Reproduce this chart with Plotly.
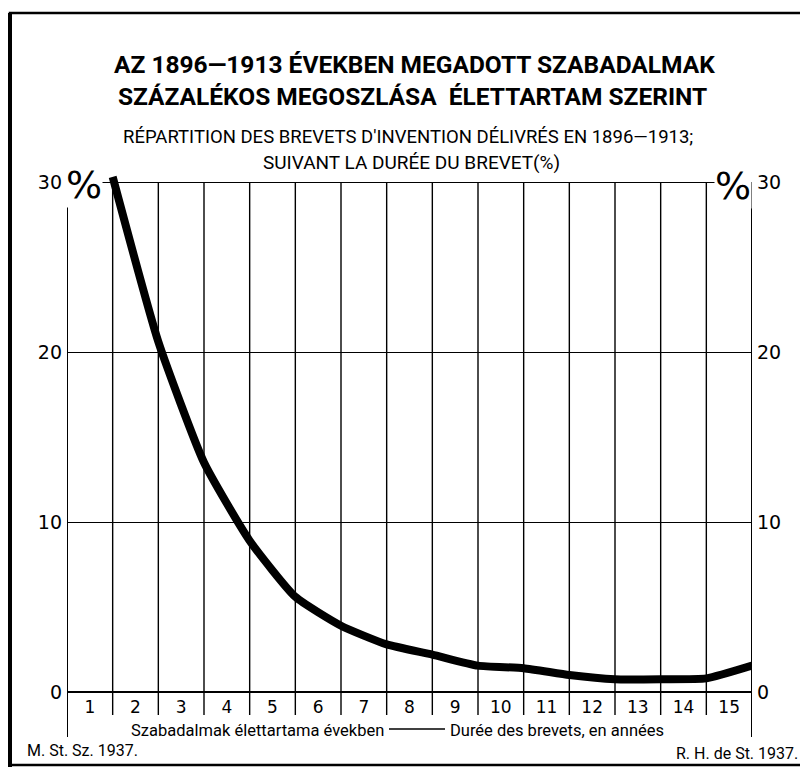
import plotly.graph_objects as go

# ---- data ----
years = list(range(1, 16))                      # duration of patent (years)
share = [30.3, 20.6, 13.5, 8.9, 5.6, 3.9, 2.8, 2.2, 1.55, 1.4, 1.0, 0.75, 0.75, 0.8, 1.55]
col_labels = [str(i) for i in range(1, 16)]
col_centers = [i - 0.5 for i in years]
col_bounds = list(range(0, 16))
y_ticks = [0, 10, 20, 30]
y_ticktext = ["0", "10", "20", "30"]

title1 = "AZ 1896—1913 ÉVEKBEN MEGADOTT SZABADALMAK"
title2 = "SZÁZALÉKOS MEGOSZLÁSA  ÉLETTARTAM SZERINT"
title3 = "RÉPARTITION DES BREVETS D'INVENTION DÉLIVRÉS EN 1896—1913;"
title4 = "SUIVANT LA DURÉE DU BREVET(%)"
xtitle_hu = "Szabadalmak élettartama években"
xtitle_fr = "Durée des brevets, en années"
foot_left = "M. St. Sz. 1937."
foot_right = "R. H. de St. 1937."

# ---- layout geometry (page body has an 8px margin) ----
OFF = 8
W, H = 808 - OFF, 767 - OFF
L = 67 - OFF
T = 165 - OFF
R = W - (752 - OFF)
B = H - (692 - OFF)
PW, PH = W - L - R, H - T - B


def px(X):
    return (X - OFF - L) / PW


def py(Y):
    return (H - B - (Y - OFF)) / PH


COND = "Roboto, Liberation Sans, Arial, sans-serif"
ROUND = "DejaVu Sans, Verdana, sans-serif"

fig = go.Figure()
fig.add_trace(go.Scatter(
    x=years, y=share, mode="lines",
    line=dict(color="black", width=8, shape="spline", smoothing=0.5),
    showlegend=False, hoverinfo="skip"))
fig.add_trace(go.Scatter(
    x=years, y=share, mode="lines", yaxis="y2",
    line=dict(color="rgba(0,0,0,0)", width=0),
    showlegend=False, hoverinfo="skip"))

shapes = []
# vertical column boundaries
for k in col_bounds:
    edge = k in (0, 15)
    low = 737 if edge else 715
    shapes.append(dict(type="line", xref="x", yref="paper", x0=k, x1=k,
                       y0=py(low), y1=30 / 31,
                       line=dict(color="black", width=2 if edge else 1.4)))
# dash in x title
shapes.append(dict(type="line", xref="paper", yref="paper",
                   x0=px(389), x1=px(445), y0=py(729), y1=py(729),
                   line=dict(color="black", width=1.3)))
# page frame
shapes.append(dict(type="rect", xref="paper", yref="paper",
                   x0=px(10), x1=px(806), y0=py(765), y1=py(13),
                   line=dict(color="black", width=2.5)))
shapes.append(dict(type="line", xref="paper", yref="paper",
                   x0=px(10), x1=px(10), y0=py(767), y1=py(13),
                   line=dict(color="black", width=4)))

ann = []


def text(t, x, y, size, family=COND, xanchor="center", bg=None, color="black"):
    d = dict(text=t, x=px(x), y=py(y), xref="paper", yref="paper",
             xanchor=xanchor, yanchor="middle", showarrow=False,
             font=dict(size=size, family=family, color=color))
    if bg:
        d.update(bgcolor=bg, borderpad=0)
    ann.append(d)


text("<b>" + title1 + "</b>", 414, 64, 24.5)
text("<b>" + title2 + "</b>", 412, 97, 24.5)
text(title3, 408, 137, 18.5)
text(title4, 411, 162, 19)
text("%", 84, 185, 38, family=ROUND, bg="white")
text("%", 733, 186, 38, family=ROUND, bg="white")
text(xtitle_hu, 386, 730, 16.5, xanchor="right")
text(xtitle_fr, 448, 730, 16.5, xanchor="left")
text(foot_left, 25, 750, 16, xanchor="left")
text(foot_right, 800, 753, 16, xanchor="right")

fig.update_layout(
    width=W, height=H,
    margin=dict(l=L, r=R, t=T, b=B, pad=0),
    paper_bgcolor="white", plot_bgcolor="white",
    shapes=shapes, annotations=ann,
    xaxis=dict(range=[0, 15], tickvals=col_centers, ticktext=col_labels,
               showgrid=False, zeroline=False, showline=False, ticks="",
               ticklabelstandoff=3,
               tickfont=dict(size=17, family=ROUND, color="black"), fixedrange=True),
    yaxis=dict(range=[0, 31], tickvals=y_ticks, ticktext=y_ticktext,
               showgrid=True, gridcolor="black", gridwidth=1.4,
               zeroline=True, zerolinecolor="black", zerolinewidth=1.6,
               showline=False, ticks="", ticklabelstandoff=4,
               tickfont=dict(size=19, family=ROUND, color="black"), fixedrange=True),
    yaxis2=dict(range=[0, 31], tickvals=y_ticks, ticktext=y_ticktext,
                overlaying="y", side="right", showgrid=False, zeroline=False,
                showline=False, ticks="", ticklabelstandoff=4,
                tickfont=dict(size=19, family=ROUND, color="black"), fixedrange=True),
)

fig.write_html("out.html")
